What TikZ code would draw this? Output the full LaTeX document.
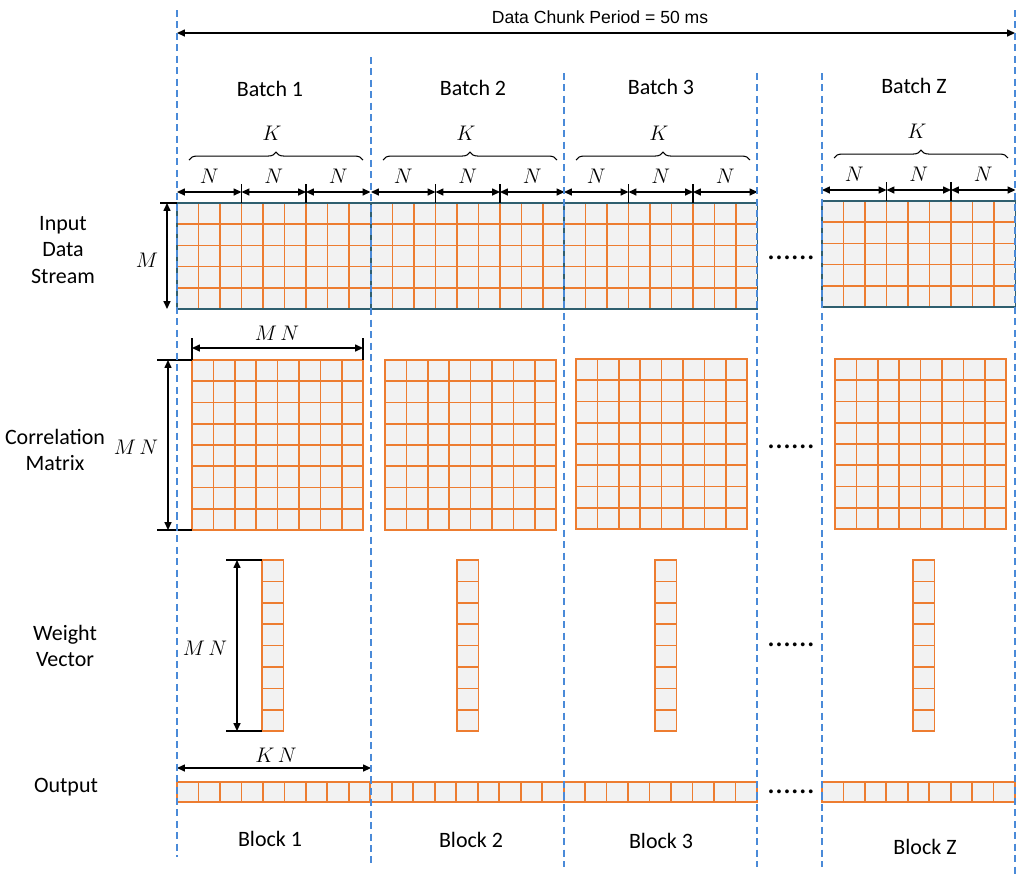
\documentclass[tikz,border=0pt]{standalone}
\usepackage{fontspec}
\setmainfont{Carlito}
\newfontfamily\chunkfont{Liberation Sans}
\usetikzlibrary{arrows.meta,decorations.pathreplacing}
\definecolor{cellorange}{HTML}{ED7D31}
\definecolor{cellgray}{HTML}{F2F2F2}
\definecolor{frameteal}{HTML}{2F5F6F}
\definecolor{sepblue}{HTML}{4A8AD8}
\tikzset{
  cellfill/.style={fill=cellgray},
  cellbox/.style={draw=cellorange,line width=1pt},
  gridframe/.style={draw=frameteal,line width=1pt},
  sepline/.style={draw=sepblue,line width=0.6pt,dash pattern=on 4pt off 2.5pt},
  dimarrow/.style={{Triangle[length=4.5pt,width=4pt]}-{Triangle[length=4.5pt,width=4pt]},line width=0.7pt},
  dimtick/.style={line width=0.7pt},
  symlbl/.style={font=\fontsize{11.5}{13}\selectfont},
  lbl/.style={align=center,font=\fontsize{12.5}{15.3}\selectfont},
  dotrow/.style={font=\fontsize{18}{20}\selectfont,anchor=base,inner sep=0pt},
}
\begin{document}
\begin{tikzpicture}[x=0.02cm,y=-0.02cm]
\useasboundingbox (0,0) rectangle (1024,890);
% period of one data chunk
\coordinate (pl) at (177,33);
\coordinate (pr) at (1015,33);
\draw[dimarrow] (pl) -- (pr);
\node[font=\chunkfont\fontsize{10}{12}\selectfont] (period) at (600,17) {Data Chunk Period = 50 ms};
\foreach \x/\y/\t [count=\b] in {270/89/1,473/88/2,661/87/3,914/86/Z}
  \node[lbl] (batch\b) at (\x,\y) {Batch \t};
% input data stream
\foreach \x/\y [count=\b] in {177/203,371/203,564/203,822/201} {
  \fill[cellfill] (\x,\y) rectangle ++(193.5,106);
  \foreach \c in {0,...,8} \foreach \r in {0,...,4}
    \draw[cellbox] (\x+\c*21.5,\y+\r*21.2) rectangle ++(21.5,21.2);
  \draw[gridframe] (\x,\y) rectangle ++(193.5,106);
  \foreach \k in {0,...,3} \coordinate (n\b\k) at (\x+\k*64.5,\y-11);
  \foreach \k in {1,2} \draw[dimtick] (\x+\k*64.5,\y-19) -- (\x+\k*64.5,\y);
  \foreach \k/\j in {0/1,1/2,2/3} {
    \draw[dimarrow] (n\b\k) -- (n\b\j);
    \node[symlbl] (nlab\b\k) at (\x+\k*64.5+32.25,\y-27) {$N$};
  }
  \draw[decorate,decoration={brace,amplitude=4.5pt},line width=0.6pt] (\x+12,\y-43) -- (\x+186,\y-43);
  \node[symlbl] (klab\b) at (\x+95,\y-70) {$K$};
}
\coordinate (mt) at (167,203);
\coordinate (mb) at (167,309);
\draw[dimtick] (160,203) -- (177,203);
\draw[dimarrow] (mt) -- (mb);
\node[symlbl] (mlab) at (147,260) {$M$};
% correlation matrix
\foreach \x/\y in {192/360,385/360,576/359,835/359} {
  \fill[cellfill] (\x,\y) rectangle ++(171.2,170);
  \foreach \c in {0,...,7} \foreach \r in {0,...,7}
    \draw[cellbox] (\x+\c*21.4,\y+\r*21.25) rectangle ++(21.4,21.25);
}
\coordinate (mnl) at (192,348);
\coordinate (mnr) at (363,348);
\draw[dimtick] (192,338) -- (192,360);
\draw[dimtick] (363,338) -- (363,360);
\draw[dimarrow] (mnl) -- (mnr);
\node[symlbl] (mnlab1) at (277,333) {$M\,N$};
\coordinate (mnt) at (168,360);
\coordinate (mnb) at (168,530);
\draw[dimtick] (157,360) -- (192,360);
\draw[dimtick] (157,530) -- (192,530);
\draw[dimarrow] (mnt) -- (mnb);
\node[symlbl] (mnlab2) at (136,447) {$M\,N$};
% weight vector
\foreach \x in {262,457,655,913} {
  \fill[cellfill] (\x,560) rectangle ++(21.5,171.2);
  \foreach \r in {0,...,7} \draw[cellbox] (\x,560+\r*21.4) rectangle ++(21.5,21.4);
}
\coordinate (wt) at (237,560);
\coordinate (wb) at (237,731);
\draw[dimtick] (226,560) -- (262,560);
\draw[dimtick] (226,731) -- (262,731);
\draw[dimarrow] (wt) -- (wb);
\node[symlbl] (mnlab3) at (205,648) {$M\,N$};
% output
\fill[cellfill] (177,782) rectangle ++(580,20);
\fill[cellfill] (822,782) rectangle ++(193,20);
\foreach \c in {0,...,26} \draw[cellbox] (177+\c*21.48,782) rectangle ++(21.48,20);
\foreach \c in {0,...,8} \draw[cellbox] (822+\c*21.44,782) rectangle ++(21.44,20);
\coordinate (kl) at (177,768);
\coordinate (kr) at (371,768);
\draw[dimarrow] (kl) -- (kr);
\node[symlbl] (knlab) at (276,755) {$K\,N$};
\foreach \x/\y/\t [count=\b] in {270/839/1,471/840/2,661/841/3,925/847/Z}
  \node[lbl] (block\b) at (\x,\y) {Block \t};
% row labels and gaps
\node[lbl] (inlab) at (63,250) {Input\\Data\\Stream};
\node[lbl] (corrlab) at (55,450) {Correlation\\Matrix};
\node[lbl] (wlab) at (65,646) {Weight\\Vector};
\node[lbl] (outlab) at (66,787) {Output};
\foreach \y [count=\d] in {259.5,448.5,646.5,793.5}
  \node[dotrow] (dots\d) at (791,\y) {......};
% batch borders
\foreach \x/\ya/\yb in {177/10/857,371/57/867,564/73/867,757/73/867,822/73/867,1015/10/877}
  \draw[sepline] (\x,\ya) -- (\x,\yb);
\end{tikzpicture}
\end{document}
